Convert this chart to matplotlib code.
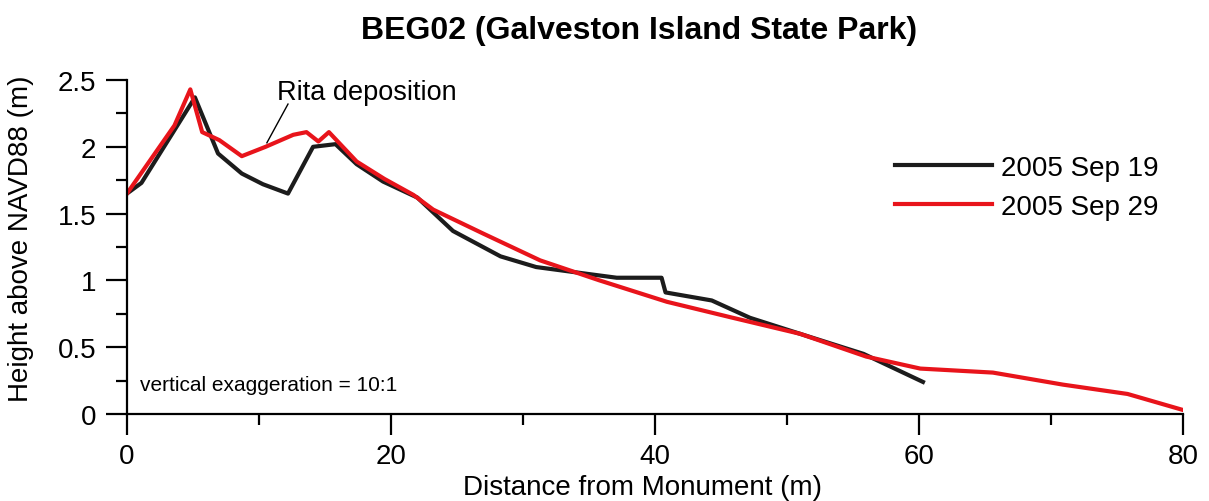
import matplotlib
matplotlib.use("Agg")
import matplotlib.pyplot as plt
from matplotlib.ticker import MultipleLocator, FormatStrFormatter

plt.rcParams['font.family'] = ['Liberation Sans', 'DejaVu Sans']

# profile 2005 Sep 19 (pre-Rita)
x_sep19 = [0, 1.1, 5.15, 6.9, 8.7, 10.3, 12.2, 14.1, 15.8, 17.4, 19.4, 22.0, 24.7,
           28.3, 31.0, 34.8, 37.1, 40.5, 40.8, 44.3, 47.2, 51.0, 55.8, 60.3]
y_sep19 = [1.65, 1.73, 2.37, 1.95, 1.80, 1.72, 1.65, 2.00, 2.02, 1.87, 1.74, 1.62, 1.37,
           1.18, 1.10, 1.05, 1.02, 1.02, 0.91, 0.85, 0.72, 0.60, 0.45, 0.24]

# profile 2005 Sep 29 (post-Rita)
x_sep29 = [0, 3.6, 4.8, 5.7, 7.0, 8.7, 10.5, 12.6, 13.6, 14.5, 15.3, 17.4, 19.5,
           21.7, 23.2, 27.0, 31.3, 35.8, 40.9, 45.9, 51.0, 56.0, 60.1, 65.6, 70.9,
           75.8, 80.0]
y_sep29 = [1.65, 2.16, 2.43, 2.11, 2.05, 1.93, 2.00, 2.09, 2.11, 2.04, 2.11, 1.89, 1.76,
           1.64, 1.53, 1.35, 1.15, 1.00, 0.84, 0.72, 0.60, 0.43, 0.34, 0.31, 0.22,
           0.15, 0.03]

labels = ["2005 Sep 19", "2005 Sep 29"]

fig = plt.figure(figsize=(12.09, 5.02), dpi=100)
ax = fig.add_axes([0.105, 0.1733, 0.8735, 0.6653])

ax.plot(x_sep19, y_sep19, color="#1c1c1c", lw=3, label=labels[0])
ax.plot(x_sep29, y_sep29, color="#e8141b", lw=3, label=labels[1])

ax.set_xlim(0, 80)
ax.set_ylim(0, 2.5)
ax.spines["top"].set_visible(False)
ax.spines["right"].set_visible(False)
for s in ["left", "bottom"]:
    ax.spines[s].set_linewidth(1.6)

ax.xaxis.set_major_locator(MultipleLocator(20))
ax.xaxis.set_minor_locator(MultipleLocator(10))
ax.yaxis.set_major_locator(MultipleLocator(0.5))
ax.yaxis.set_minor_locator(MultipleLocator(0.25))
ax.yaxis.set_major_formatter(FormatStrFormatter("%g"))
ax.tick_params(which="major", length=15, width=1.6, labelsize=20, pad=6)
ax.tick_params(which="minor", length=8, width=1.6)
ax.tick_params(axis="y", which="major", pad=7)

ax.set_xlabel("Distance from Monument (m)", fontsize=20)
ax.set_ylabel("Height above NAVD88 (m)", fontsize=20)
ax.xaxis.set_label_coords(0.488, -0.18)
ax.yaxis.set_label_coords(-0.088, 0.527)

fig.text(0.529, 0.938, "BEG02 (Galveston Island State Park)", fontsize=23,
         fontweight="bold", ha="center", va="center")

ax.text(11.4, 2.41, "Rita deposition", fontsize=19.5, va="center", ha="left")
ax.plot([12.2, 10.6], [2.32, 2.03], color="black", lw=1)
ax.text(1.0, 0.22, "vertical exaggeration = 10:1", fontsize=15, va="center")

ax.legend(loc="upper left", bbox_to_anchor=(895 / 1209, 0.69),
          bbox_transform=fig.transFigure, frameon=False, fontsize=20,
          handlelength=3.5, handletextpad=0.3, labelspacing=0.48,
          borderpad=0, borderaxespad=0)

fig.savefig("out.png", dpi=100)
